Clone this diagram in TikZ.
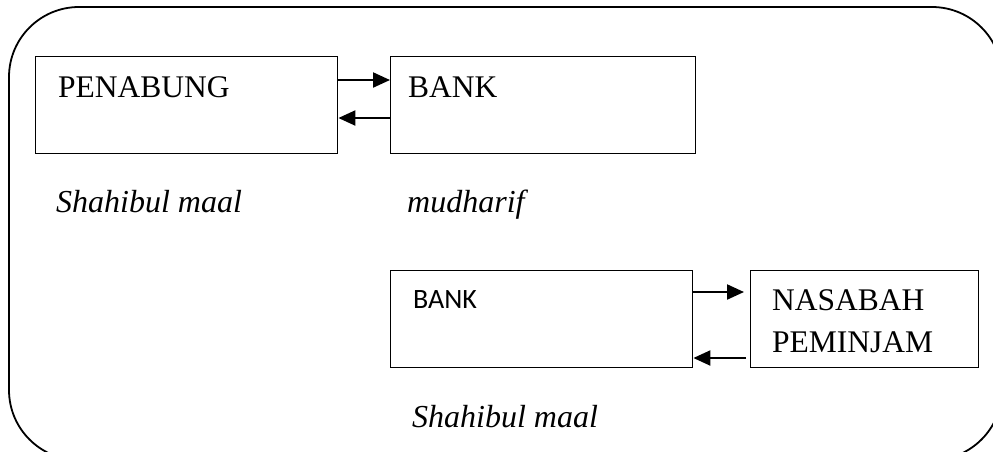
\documentclass[tikz,border=0pt]{standalone}
\usepackage{fontspec}
\setmainfont{Liberation Serif}
\newfontfamily\calibri{Carlito}
\usetikzlibrary{arrows.meta}
\begin{document}
\begin{tikzpicture}[x=1pt,y=-1pt,
  boxnode/.style={draw,line width=1.4pt,anchor=north west,inner sep=0pt},
  arr/.style={line width=2.2pt,-{Triangle[length=17pt,width=15pt]}},
  bigtxt/.style={anchor=base west,inner sep=0pt,font=\fontsize{31.5}{36}\selectfont},
  ittxt/.style={anchor=base west,inner sep=0pt,font=\fontsize{32}{36}\selectfont\itshape}]
\useasboundingbox (0,0) rectangle (993,451);
\clip (0,0) rectangle (993,451);
\draw[line width=1.8pt,rounded corners=70pt] (9,7) rectangle (1002,460);
% boxes
\node[boxnode,minimum width=302pt,minimum height=97pt] (pen) at (35,56) {};
\node[boxnode,minimum width=305pt,minimum height=97pt] (bank) at (390,56) {};
\node[boxnode,minimum width=302pt,minimum height=97pt] (bankb) at (390,270) {};
\node[boxnode,minimum width=228pt,minimum height=97pt] (nas) at (750,270) {};
% texts
\node[bigtxt] (tpen) at (58,97) {PENABUNG};
\node[bigtxt] (tbank) at (408,97) {BANK};
\node[ittxt] (tsm1) at (56,212) {Shahibul maal};
\node[ittxt] (tmud) at (407,212) {mudharif};
\node[anchor=base west,inner sep=0pt,font=\calibri\fontsize{28}{32}\selectfont] (tbankb) at (413,308) {BANK};
\node[bigtxt] (tnas1) at (772,310) {NASABAH};
\node[bigtxt] (tnas2) at (772,352) {PEMINJAM};
\node[ittxt] (tsm2) at (412,427) {Shahibul maal};
% arrows
\draw[arr] (pen.east |- 0,80) -- (bank.west |- 0,80);
\draw[arr] (bank.west |- 0,118) -- (pen.east |- 0,118);
\draw[arr] (bankb.east |- 0,292) -- ([xshift=-6pt]nas.west |- 0,292);
\draw[arr] ([xshift=-4pt]nas.west |- 0,358) -- (bankb.east |- 0,358);
\end{tikzpicture}
\end{document}
